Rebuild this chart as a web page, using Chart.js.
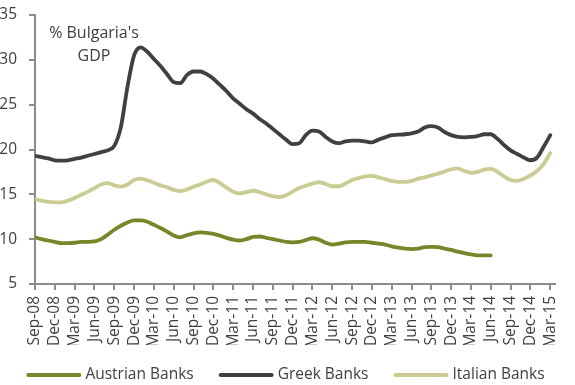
<!DOCTYPE html>
<html>
<head>
<meta charset="utf-8">
<script src="https://cdn.jsdelivr.net/npm/chart.js@4/dist/chart.umd.min.js"></script>
<style>
  html, body { margin: 0; padding: 0; background: #ffffff; }
  #wrap { width: 575px; height: 385px; position: relative; }
</style>
</head>
<body>
<div id="wrap"><canvas id="c" width="575" height="385"></canvas></div>
<script>
// Quarterly tick labels along the x axis (monthly series underneath)
const quarterLabels = [
  'Sep-08','Dec-08','Mar-09','Jun-09','Sep-09','Dec-09','Mar-10','Jun-10','Sep-10',
  'Dec-10','Mar-11','Jun-11','Sep-11','Dec-11','Mar-12','Jun-12','Sep-12','Dec-12',
  'Mar-13','Jun-13','Sep-13','Dec-13','Mar-14','Jun-14','Sep-14','Dec-14','Mar-15'
];

// Monthly values, % of Bulgaria's GDP, starting Sep-08
const austrianBanks = [
  10.2, 10.0, 9.85, 9.7, 9.55, 9.55, 9.6, 9.7, 9.7, 9.75,
  10.0, 10.5, 11.05, 11.5, 11.85, 12.1, 12.1, 11.95, 11.6, 11.25,
  10.85, 10.4, 10.2, 10.45, 10.65, 10.75, 10.7, 10.6, 10.4, 10.15,
  9.95, 9.85, 10.0, 10.25, 10.3, 10.15, 10.0, 9.85, 9.7, 9.65,
  9.7, 9.9, 10.1, 9.95, 9.6, 9.4, 9.5, 9.65, 9.7, 9.7,
  9.7, 9.6, 9.5, 9.4, 9.2, 9.05, 8.95, 8.9, 8.95, 9.1,
  9.15, 9.1, 8.95, 8.8, 8.6, 8.45, 8.3, 8.2, 8.2, 8.2
];

const greekBanks = [
  19.3, 19.15, 19.0, 18.8, 18.75, 18.8, 18.95, 19.1, 19.3, 19.5,
  19.7, 19.9, 20.4, 22.5, 27.0, 30.5, 31.4, 30.9, 30.1, 29.3,
  28.4, 27.5, 27.4, 28.3, 28.7, 28.7, 28.4, 27.9, 27.2, 26.5,
  25.7, 25.1, 24.5, 24.0, 23.4, 22.9, 22.3, 21.7, 21.1, 20.6,
  20.7, 21.6, 22.1, 22.0, 21.4, 20.9, 20.7, 20.9, 21.0, 21.0,
  20.9, 20.8, 21.1, 21.35, 21.6, 21.65, 21.7, 21.8, 22.0, 22.45,
  22.6, 22.45, 21.95, 21.6, 21.4, 21.35, 21.4, 21.5, 21.7, 21.7,
  21.2, 20.5, 19.9, 19.5, 19.1, 18.8, 19.1, 20.3, 21.6
];

const italianBanks = [
  14.45, 14.3, 14.15, 14.1, 14.1, 14.3, 14.6, 14.95, 15.3, 15.7,
  16.1, 16.25, 16.0, 15.85, 16.1, 16.6, 16.75, 16.55, 16.3, 16.0,
  15.8, 15.5, 15.35, 15.55, 15.85, 16.1, 16.4, 16.6, 16.25, 15.75,
  15.3, 15.1, 15.25, 15.4, 15.25, 15.0, 14.8, 14.7, 14.9, 15.3,
  15.7, 15.95, 16.2, 16.35, 16.15, 15.9, 15.9, 16.2, 16.6, 16.8,
  17.0, 17.05, 16.9, 16.7, 16.5, 16.4, 16.4, 16.5, 16.75, 16.9,
  17.1, 17.3, 17.55, 17.8, 17.9, 17.6, 17.4, 17.5, 17.75, 17.85,
  17.5, 17.0, 16.6, 16.5, 16.75, 17.1, 17.6, 18.4, 19.6
];

const seriesNames = ['Austrian Banks', 'Greek Banks', 'Italian Banks'];
const seriesColors = ['#778628', '#404040', '#cbcb94'];
const unitNote = ["% Bulgaria's", 'GDP'];

const FONT = '"Open Sans", sans-serif';
const TEXT = '#404040';
const AXIS = '#8c8c8c';

const toPoints = arr => arr.map((y, i) => ({ x: i, y }));

// Unit note in the upper-left of the plot
const unitNotePlugin = {
  id: 'unitNote',
  afterDraw(chart) {
    const ctx = chart.ctx;
    const a = chart.chartArea;
    ctx.save();
    ctx.font = '16px ' + FONT;
    ctx.fillStyle = TEXT;
    ctx.textAlign = 'center';
    ctx.textBaseline = 'middle';
    ctx.fillText(unitNote[0], a.left + 59, 33);
    ctx.fillText(unitNote[1], a.left + 59, 56);
    ctx.restore();
  }
};

// One-row legend under the axis: a short line sample followed by the series name
const lineLegendPlugin = {
  id: 'lineLegend',
  afterDraw(chart) {
    const ctx = chart.ctx;
    const sample = 55, textGap = 4, itemGap = 25, y = 375;
    ctx.save();
    ctx.font = '15.5px ' + FONT;
    ctx.textBaseline = 'middle';
    ctx.textAlign = 'left';
    const items = chart.data.datasets.map(ds => ({
      label: ds.label,
      color: ds.borderColor,
      w: sample + textGap + ctx.measureText(ds.label).width
    }));
    const total = items.reduce((s, it) => s + it.w, 0) + itemGap * (items.length - 1);
    let x = (chart.width - total) / 2 - 2;
    items.forEach(it => {
      ctx.strokeStyle = it.color;
      ctx.lineWidth = 4;
      ctx.lineCap = 'round';
      ctx.beginPath();
      ctx.moveTo(x + 2, y);
      ctx.lineTo(x + sample - 2, y);
      ctx.stroke();
      ctx.fillStyle = TEXT;
      ctx.fillText(it.label, x + sample + textGap, y);
      x += it.w + itemGap;
    });
    ctx.restore();
  }
};

new Chart(document.getElementById('c'), {
  type: 'line',
  data: {
    datasets: [
      { label: seriesNames[0], data: toPoints(austrianBanks), borderColor: seriesColors[0], backgroundColor: seriesColors[0] },
      { label: seriesNames[1], data: toPoints(greekBanks), borderColor: seriesColors[1], backgroundColor: seriesColors[1] },
      { label: seriesNames[2], data: toPoints(italianBanks), borderColor: seriesColors[2], backgroundColor: seriesColors[2] }
    ]
  },
  options: {
    responsive: false,
    animation: false,
    devicePixelRatio: 1,
    layout: { padding: { top: 15, right: 15, left: 0, bottom: 40 } },
    elements: {
      line: { borderWidth: 3.8, cubicInterpolationMode: 'monotone', borderCapStyle: 'round', borderJoinStyle: 'round' },
      point: { radius: 0, hoverRadius: 0 }
    },
    scales: {
      x: {
        type: 'linear',
        min: 0,
        max: 78.75,
        grid: { display: true, drawOnChartArea: false, drawTicks: true, tickLength: 6, color: AXIS, lineWidth: 2 },
        border: { display: true, color: AXIS, width: 2 },
        ticks: {
          stepSize: 3,
          includeBounds: false,
          autoSkip: false,
          minRotation: 90,
          maxRotation: 90,
          padding: 6,
          color: TEXT,
          font: { family: FONT, size: 15.5 },
          callback: v => (v % 3 === 0 ? quarterLabels[v / 3] : '')
        },
        afterFit(scale) { scale.height = 61; }
      },
      y: {
        min: 5,
        max: 35,
        grid: { display: true, drawOnChartArea: false, drawTicks: true, tickLength: 6, color: AXIS, lineWidth: 2 },
        border: { display: true, color: AXIS, width: 2 },
        ticks: {
          stepSize: 5,
          padding: 12,
          color: TEXT,
          font: { family: FONT, size: 15.5 }
        },
        afterFit(scale) {
          scale.width = 35;
          scale.paddingTop = 0;
          scale.paddingBottom = 0;
        }
      }
    },
    plugins: {
      legend: { display: false },
      tooltip: { enabled: false },
      title: { display: false }
    }
  },
  plugins: [unitNotePlugin, lineLegendPlugin]
});
</script>
</body>
</html>
